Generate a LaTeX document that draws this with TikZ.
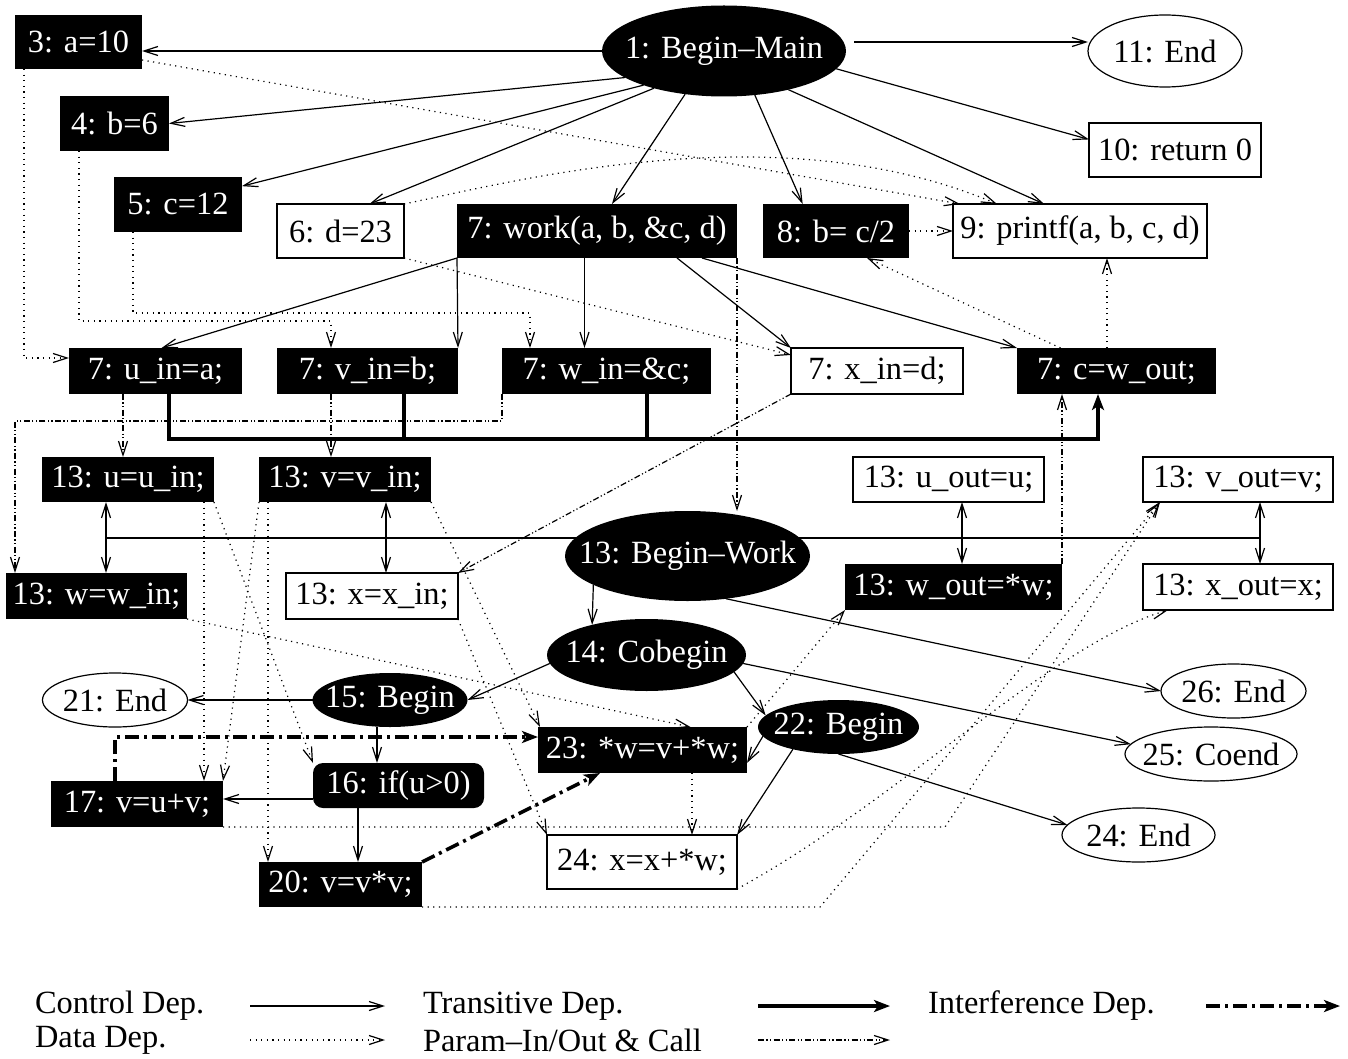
\documentclass[tikz,border=0pt]{standalone}
\usepackage{fontspec}
\setmainfont{Liberation Serif}
\usetikzlibrary{arrows.meta,shapes.geometric}

\begin{document}
\begin{tikzpicture}[x=0.5pt,y=-0.5pt,>={Straight Barb[length=7pt,width=4.5pt]},
                    sz/.style 2 args={minimum width=#1*0.5pt,minimum height=#2*0.5pt}]

  \tikzstyle{every node}=[font=\fontsize{16.2}{19}\selectfont,inner sep=0pt,outer sep=0pt]
  \tikzstyle{blk}=[rectangle,fill=black,text=white]
  \tikzstyle{wht}=[rectangle,draw,line width=0.6pt,fill=white]
  \tikzstyle{bell}=[ellipse,fill=black,text=white,
                    execute at begin node={\hbox to 0pt\bgroup\hss},execute at end node={\hss\egroup}]
  \tikzstyle{well}=[ellipse,draw,line width=0.6pt,fill=white,
                    execute at begin node={\hbox to 0pt\bgroup\hss},execute at end node={\hss\egroup}]
  \tikzstyle{ctrl}=[->,line width=0.6pt]
  \tikzstyle{data}=[->,line width=0.6pt,dash pattern=on 0.6pt off 2.2pt]
  \tikzstyle{param}=[->,line width=0.6pt,dash pattern=on 3pt off 1.2pt on 0.6pt off 1.2pt on 0.6pt off 1.2pt]
  \tikzstyle{trans}=[-{Stealth[length=8pt,width=6pt,inset=2pt]},line width=2pt]
  \tikzstyle{intf}=[-{Stealth[length=8pt,width=6pt,inset=2pt]},line width=1.8pt,
                    dash pattern=on 7pt off 2.5pt on 1.5pt off 2.5pt]

  \useasboundingbox (0,0) rectangle (1348,1059);

  % main program
  \node[bell,sz={244}{91}] (n1)  at (724,51)      {1: Begin--Main};
  \node[blk,sz={127}{54}]  (n3)  at (78.5,42)     {3: a=10};
  \node[well,sz={154}{72}] (n11) at (1165,51)     {11: End};
  \node[blk,sz={109}{55}]  (n4)  at (114.5,123.5) {4: b=6};
  \node[wht,sz={172}{54}]  (n10) at (1175,150)    {10: return 0};
  \node[blk,sz={128}{55}]  (n5)  at (178,204.5)   {5: c=12};
  \node[wht,sz={127}{54}]  (n6)  at (340.5,231)   {6: d=23};
  \node[blk,sz={280}{54}]  (n7)  at (597,231)     {7: work(a, b, \&c, d)};
  \node[blk,sz={146}{54}]  (n8)  at (836,231)     {8: b= c/2};
  \node[wht,sz={254}{54}]  (n9)  at (1080,231)    {9: printf(a, b, c, d)};

  % call site
  \node[blk,sz={173}{46}] (n7u) at (155.5,371)  {7: u\_in=a;};
  \node[blk,sz={181}{46}] (n7v) at (367.5,371)  {7: v\_in=b;};
  \node[blk,sz={209}{46}] (n7w) at (606.5,371)  {7: w\_in=\&c;};
  \node[wht,sz={172}{46}] (n7x) at (877,371)    {7: x\_in=d;};
  \node[blk,sz={199}{46}] (n7c) at (1116.5,371) {7: c=w\_out;};

  % procedure work
  \node[blk,sz={172}{45}]  (n13u)  at (128,479.5)   {13: u=u\_in;};
  \node[blk,sz={172}{45}]  (n13v)  at (345,479.5)   {13: v=v\_in;};
  \node[wht,sz={191}{45}]  (n13uo) at (948.5,479.5) {13: u\_out=u;};
  \node[wht,sz={190}{45}]  (n13vo) at (1238,479.5)  {13: v\_out=v;};
  \node[blk,sz={181}{46}]  (n13w)  at (96.5,596)    {13: w=w\_in;};
  \node[wht,sz={172}{46}]  (n13x)  at (372,596)     {13: x=x\_in;};
  \node[bell,sz={245}{90}] (nBW)   at (687.5,556)   {13: Begin--Work};
  \node[blk,sz={217}{46}]  (n13wo) at (953.5,587)   {13: w\_out=*w;};
  \node[wht,sz={190}{46}]  (n13xo) at (1238,587)    {13: x\_out=x;};

  \node[bell,sz={199}{72}] (n14)  at (646.5,655)  {14: Cobegin};
  \node[bell,sz={155}{54}] (n15)  at (390,700)    {15: Begin};
  \node[well,sz={145}{54}] (n21)  at (115,700)    {21: End};
  \node[bell,sz={161}{54}] (n22)  at (838.5,727)  {22: Begin};
  \node[well,sz={145}{54}] (n26)  at (1233.5,691) {26: End};
  \node[well,sz={172}{54}] (n25)  at (1211,754)   {25: Coend};
  \node[well,sz={153}{54}] (n24e) at (1138.5,835) {24: End};
  \node[blk,sz={209}{46}]  (n23)  at (642.5,750)  {23: *w=v+*w;};
  \node[blk,sz={171}{45},rounded corners=5pt] (n16) at (398.5,785.5) {16: if(u>0)};
  \node[blk,sz={172}{46}]  (n17)  at (137,804)    {17: v=u+v;};
  \node[blk,sz={163}{45}]  (n20)  at (340.5,884.5) {20: v=v*v;};
  \node[wht,sz={190}{54}]  (n24)  at (642,862)    {24: x=x+*w;};

  % control
  \draw[ctrl] (n1.west) -- (n1.west -| n3.east);
  \draw[ctrl] ([shift={(8,-9)}]n1.east) -- ([shift={(0,-9)}]n11.west);
  \draw[ctrl] (n1.195) -- (n4.east);
  \draw[ctrl] (n1.203) -- (n5.16);
  \draw[ctrl] (n1.208) -- (n6.43);
  \draw[ctrl] (n1.228) -- (n7.61);
  \draw[ctrl] (n1.305) -- (n8.141);
  \draw[ctrl] (n1.351) -- (n10.173);
  \draw[ctrl] (n1.329) -- (n9.143);
  \draw[ctrl] (n7.south west) -- ([xshift=3pt]n7u.north);
  \draw[ctrl] (n7.south west) -- (n7v.north east);
  \draw[ctrl] ([xshift=-11pt]n7w.north |- n7.south) -- ([xshift=-11pt]n7w.north);
  \draw[ctrl] ([xshift=40pt]n7.south) -- (n7x.north west);
  \draw[ctrl] ([xshift=52.5pt]n7.south) -- (n7c.north west);

  \draw[line width=0.6pt] ([shift={(-22,36)}]n13u.south) -- ([shift={(22,36)}]n13vo.south);
  \draw[ctrl,<->] ([xshift=-11pt]n13u.south) -- ([xshift=-11pt]n13u.south |- n13w.north);
  \draw[ctrl,<->] ([xshift=20.5pt]n13v.south) -- ([xshift=20.5pt]n13v.south |- n13x.north);
  \draw[ctrl,<->] ([xshift=6.75pt]n13uo.south) -- ([xshift=6.75pt]n13uo.south |- n13wo.north);
  \draw[ctrl,<->] ([xshift=11pt]n13vo.south) -- ([xshift=11pt]n13vo.south |- n13xo.north);
  \draw[ctrl] (nBW.197) -- (n14.151);
  \draw[ctrl] (nBW.312) -- (n26.west);
  \draw[ctrl] (n14.185) -- (n15.east);
  \draw[ctrl] (n14.349) -- (n22.171);
  \draw[ctrl] (n14.355) -- (n25.173);
  \draw[ctrl] (n15.west) -- (n21.east);
  \draw[ctrl] ([xshift=-6.5pt]n15.south) -- ([xshift=-6.5pt]n15.south |- n16.north);
  \draw[ctrl] ([yshift=-6.75pt]n16.west) -- ([yshift=-6.75pt]n16.west -| n17.east);
  \draw[ctrl] ([xshift=-20.25pt]n16.south) -- ([xshift=-20.25pt]n16.south |- n20.north);
  \draw[ctrl] (n22.187) -- (n23.353);
  \draw[ctrl] (n22.206) -- (n24.north east);
  \draw[ctrl] (n22.south) -- (n24e.172);

  % data
  \draw[data] ([xshift=4.5pt]n3.south west) |- ([yshift=6.5pt]n7u.west);
  \draw[data] ([yshift=4.5pt]n3.south east) -- ([xshift=-60pt]n9.north);
  \draw[data] (n6.north east) .. controls +(116,-24) and +(-217,-92) .. ([xshift=-41.5pt]n9.north);
  \draw[data] ([xshift=9.5pt]n4.south west) |- ([shift={(-36.5,-27)}]n7v.north) -- ([xshift=-18.25pt]n7v.north);
  \draw[data] ([xshift=9.5pt]n5.south west) |- ([shift={(-76.5,-35)}]n7w.north) -- ([xshift=-38.25pt]n7w.north);
  \draw[data] (n6.south east) -- ([yshift=8pt]n7x.west);
  \draw[data] (n8.east) -- (n9.west);
  \draw[data] ([xshift=-28pt]n7c.north) -- (n8.319);
  \draw[data] ([xshift=-4.75pt]n7c.north) -- ([xshift=-4.75pt]n7c.north |- n9.south);

  \draw[data] ([xshift=-5pt]n13u.south east) -- ([xshift=-5pt]n13u.south east |- n17.north);
  \draw[data] (n13u.south east) -- (n16.north west);
  \draw[data] (n13v.south west) -- (n17.north east);
  \draw[data] ([xshift=4.5pt]n13v.south west) -- ([xshift=4.5pt]n13v.south west |- n20.north);
  \draw[data] (n13v.south east) -- ([xshift=1pt]n23.north west);
  \draw[data] (n13x.south east) -- (n24.north west);
  \draw[data] (n13w.south east) -- ([xshift=24pt]n23.north);
  \draw[data] ([xshift=24.75pt]n23.south) -- ([xshift=24.75pt]n23.south |- n24.north);
  \draw[data] (n23.north east) -- (n13wo.south west);
  \draw[data] (n17.south east) -- ++(722,0) -- ([xshift=8.5pt]n13vo.south west);
  \draw[data] (n20.south east) -- ++(398,0) -- ([xshift=8.5pt]n13vo.south west);
  \draw[data] (n24.south east) .. controls +(163,-89) and +(-118,35) .. ([xshift=12.5pt]n13xo.south west);

  % param-in/out and call
  \draw[param] (n7.south east) -- (n7.south east |- nBW.north);
  \draw[param] ([xshift=-2.5pt]n13u.north |- n7u.south) -- ([xshift=-2.5pt]n13u.north);
  \draw[param] ([xshift=-7pt]n13v.north |- n7v.south) -- ([xshift=-7pt]n13v.north);
  \draw[param] (n7w.south west) |- ([shift={(9,-152)}]n13w.north west) -- ([xshift=4.5pt]n13w.north west);
  \draw[param] (n7x.south west) -- (n13x.north east);
  \draw[param] (n13wo.north east) -- (n13wo.north east |- n7c.south);

  % transitive
  \draw[trans] ([xshift=6.75pt]n7u.south) |- ([shift={(-18.5,45)}]n7c.south) -- ([xshift=-9.25pt]n7c.south);
  \draw[line width=2pt] ([xshift=18.25pt]n7v.south) -- ++(0,45);
  \draw[line width=2pt] ([xshift=20.25pt]n7w.south) -- ++(0,45);

  % interference
  \draw[intf] ([xshift=-11pt]n17.north) |- ([yshift=6.5pt]n23.west);
  \draw[intf] (n20.north east) -- ([xshift=-21.25pt]n23.south);

  % legend
  \node[anchor=west] (lc) at (35,1006)  {Control Dep.};
  \node[anchor=west] (lt) at (423,1006) {Transitive Dep.};
  \node[anchor=west] (li) at (928,1006) {Interference Dep.};
  \node[anchor=west] (ld) at (35,1040)  {Data Dep.};
  \node[anchor=west] (lp) at (423,1040) {Param--In/Out \& Call};
  \coordinate (lc1) at (250,1006);  \coordinate (lc2) at (385,1006);
  \coordinate (lt1) at (758,1006);  \coordinate (lt2) at (890,1006);
  \coordinate (li1) at (1206,1006); \coordinate (li2) at (1340,1006);
  \coordinate (ld1) at (250,1040);  \coordinate (ld2) at (385,1040);
  \coordinate (lp1) at (758,1040);  \coordinate (lp2) at (890,1040);
  \draw[ctrl]  (lc1) -- (lc2);
  \draw[trans] (lt1) -- (lt2);
  \draw[intf]  (li1) -- (li2);
  \draw[data]  (ld1) -- (ld2);
  \draw[param] (lp1) -- (lp2);
\end{tikzpicture}
\end{document}
